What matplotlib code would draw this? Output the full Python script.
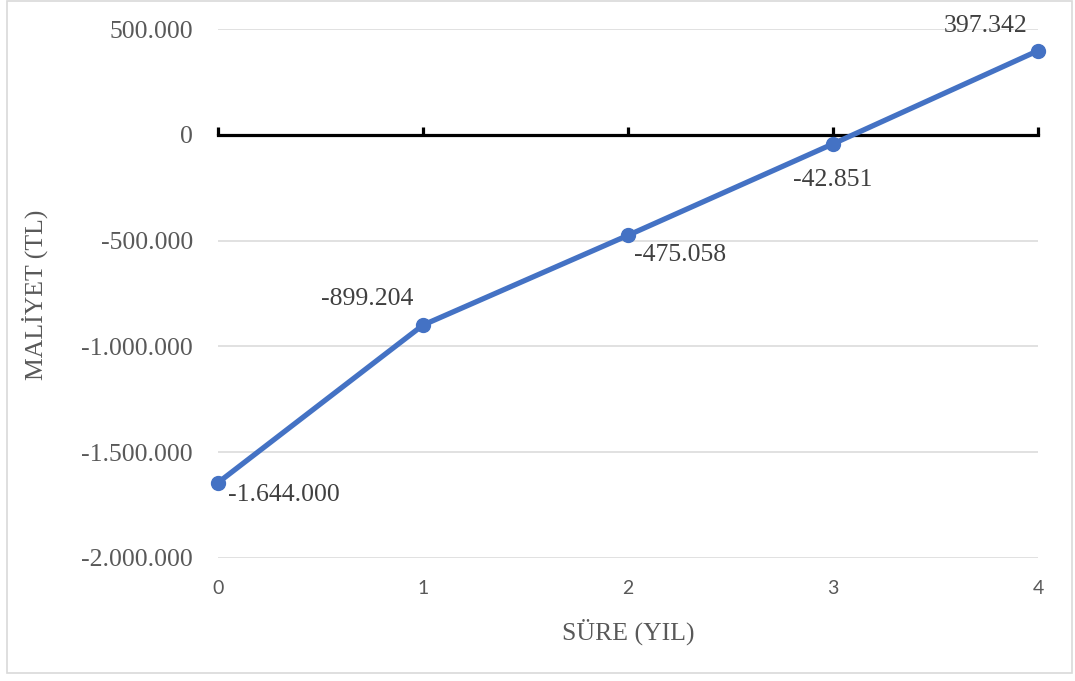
import matplotlib.pyplot as plt
from matplotlib.patches import Rectangle
from matplotlib.ticker import FuncFormatter

plt.rcParams['font.family'] = ['Liberation Serif', 'DejaVu Serif']

# cumulative cost per year
YEARS = [0, 1, 2, 3, 4]
COST = [-1644000, -899204, -475058, -42851, 397342]
Y_TICKS = [-2000000, -1500000, -1000000, -500000, 0, 500000]

# label offsets (points) and alignment for each point
LABEL_POS = [
    ((7, -9), 'left'),
    ((-40, 19), 'center'),
    ((4, -14), 'left'),
    ((0, -26), 'center'),
    ((-38, 18), 'center'),
]

BLUE = '#4472C4'
GREY = '#595959'
DARK = '#404040'


def tr_fmt(v, pos=None):
    # turkish style thousands separator
    s = f"{abs(v):,.0f}".replace(',', '.')
    return ('-' + s) if v < 0 else s


fig = plt.figure(figsize=(10.75, 6.81), dpi=100)
ax = fig.add_axes([218 / 1075, 1 - 558 / 681, 820 / 1075, 529 / 681])

ax.plot(YEARS, COST, color=BLUE, lw=3.8, marker='o', ms=10,
        zorder=4, clip_on=False, solid_capstyle='round')

for x, y, (off, ha) in zip(YEARS, COST, LABEL_POS):
    ax.annotate(tr_fmt(y), (x, y), xytext=off, textcoords='offset points',
                ha=ha, va='center', fontsize=18.5, color=DARK)

ax.set_xlim(0, 4)
ax.set_ylim(-2000000, 500000)
ax.set_yticks(Y_TICKS)
ax.yaxis.set_major_formatter(FuncFormatter(tr_fmt))
ax.tick_params(axis='y', length=0, pad=18, labelsize=18.5, labelcolor=GREY)
ax.grid(axis='y', color='#D9D9D9', lw=1.1)
ax.set_axisbelow(True)

# horizontal axis line through zero with upward ticks
for s in ['left', 'top', 'right']:
    ax.spines[s].set_visible(False)
ax.spines['bottom'].set_position(('data', 0))
ax.spines['bottom'].set_linewidth(2.3)
ax.spines['bottom'].set_color('black')
ax.set_xticks(YEARS)
ax.tick_params(axis='x', direction='in', length=5.5, width=2.3, color='black',
               labelbottom=False)

# year labels sit at the bottom of the plot area
sec = ax.secondary_xaxis('bottom')
sec.set_xticks(YEARS)
sec.spines['bottom'].set_visible(False)
sec.tick_params(axis='x', length=0, pad=16)
for lbl in sec.get_xticklabels():
    lbl.set_fontfamily(['Lato', 'DejaVu Sans'])
    lbl.set_fontsize(14)
    lbl.set_color(GREY)

ax.set_xlabel('SÜRE (YIL)', fontsize=18.5, color=GREY)
ax.set_ylabel('MALİYET (TL)', fontsize=18.5, color=GREY)
ax.xaxis.set_label_coords(0.5, -0.14)
ax.yaxis.set_label_coords(-0.223, 0.497)
ax.xaxis.label.set_va('center')
ax.yaxis.label.set_va('center')

# chart frame
fig.patches.append(Rectangle((7 / 1075, 1 - 673 / 681), 1065 / 1075, 672 / 681,
                             transform=fig.transFigure, fill=False,
                             edgecolor='#D9D9D9', lw=1.2))

fig.savefig('out.png', dpi=100, facecolor='white')
